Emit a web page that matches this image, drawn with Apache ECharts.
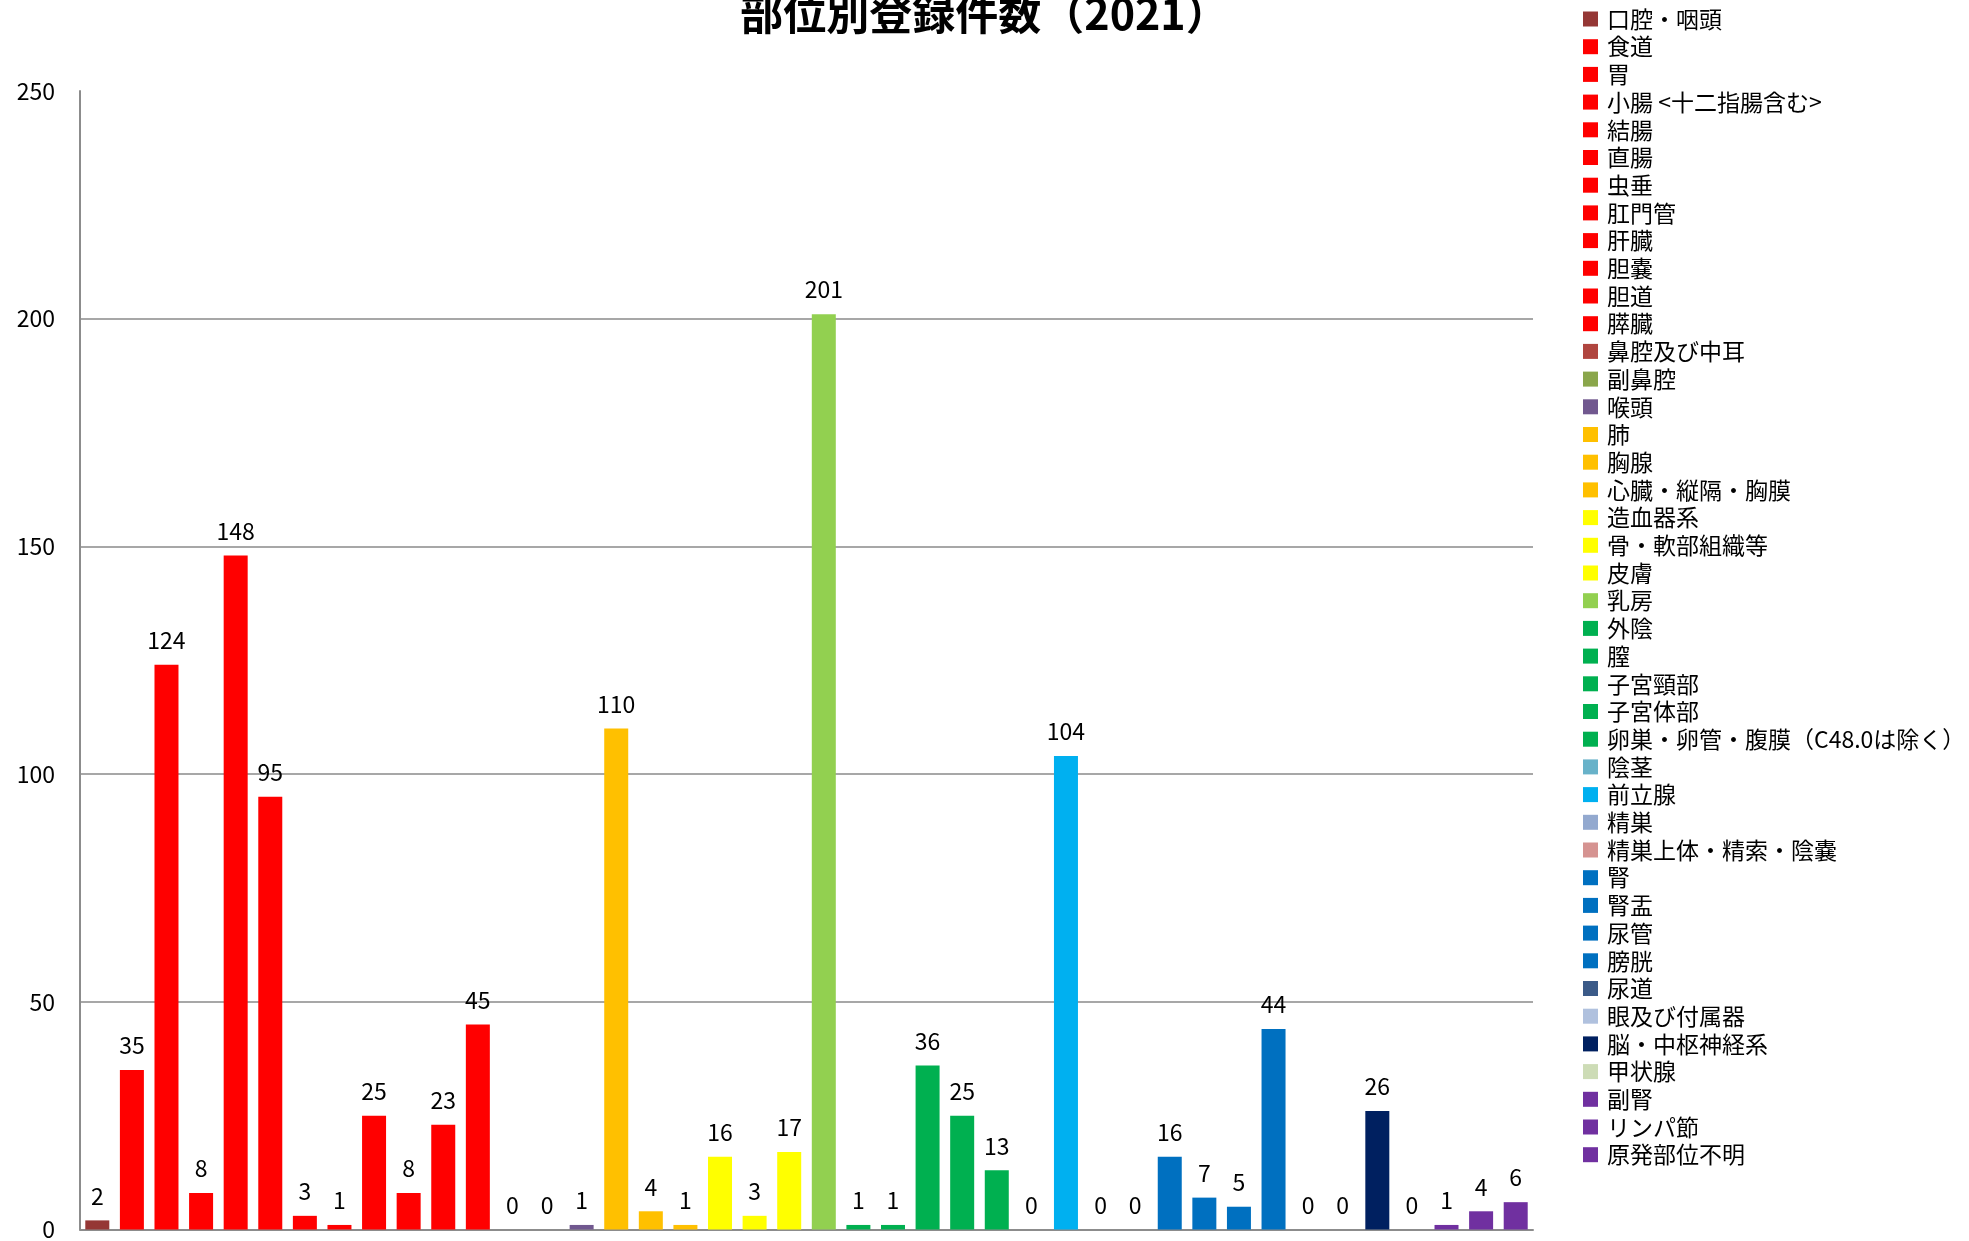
<!DOCTYPE html>
<html>
<head>
<meta charset="utf-8">
<title>部位別登録件数（2021）</title>
<script src="https://cdn.jsdelivr.net/npm/echarts@6/dist/echarts.min.js"></script>
<style>
    html, body { margin: 0; padding: 0; background: #fff; }
    #chart { width: 1969px; height: 1241px; }
</style>
</head>
<body>
<div id="chart"></div>
<script>
// 部位名
var sites = [
    '口腔・咽頭', '食道', '胃', '小腸 <十二指腸含む>', '結腸', '直腸', '虫垂', '肛門管',
    '肝臓', '胆嚢', '胆道', '膵臓', '鼻腔及び中耳', '副鼻腔', '喉頭', '肺', '胸腺',
    '心臓・縦隔・胸膜', '造血器系', '骨・軟部組織等', '皮膚', '乳房', '外陰', '膣',
    '子宮頸部', '子宮体部', '卵巣・卵管・腹膜（C48.0は除く）', '陰茎', '前立腺', '精巣',
    '精巣上体・精索・陰嚢', '腎', '腎盂', '尿管', '膀胱', '尿道', '眼及び付属器',
    '脳・中枢神経系', '甲状腺', '副腎', 'リンパ節', '原発部位不明'
];
// 登録件数
var counts = [
    2, 35, 124, 8, 148, 95, 3, 1,
    25, 8, 23, 45, 0, 0, 1, 110, 4,
    1, 16, 3, 17, 201, 1, 1,
    36, 25, 13, 0, 104, 0,
    0, 16, 7, 5, 44, 0, 0,
    26, 0, 1, 4, 6
];
// 色
var siteColors = [
    '#953735', '#FF0000', '#FF0000', '#FF0000', '#FF0000', '#FF0000', '#FF0000', '#FF0000',
    '#FF0000', '#FF0000', '#FF0000', '#FF0000', '#B0453F', '#8AA64B', '#71588F', '#FFC000', '#FFC000',
    '#FFC000', '#FFFF00', '#FFFF00', '#FFFF00', '#92D050', '#00B050', '#00B050',
    '#00B050', '#00B050', '#00B050', '#68B2C9', '#00B0F0', '#93A9CF',
    '#D59391', '#0070C0', '#0070C0', '#0070C0', '#0070C0', '#3B5A88', '#B0C1DE',
    '#002060', '#CDDCB6', '#7030A0', '#7030A0', '#7030A0'
];
var yMin = 0, yMax = 250, yStep = 50;

var myChart = echarts.init(document.getElementById('chart'));
var font = '"Noto Sans CJK JP", "Noto Sans", sans-serif';

// 系列ごとに1本ずつ棒を置く（凡例を部位ごとに出すため）
var series = sites.map(function (name, i) {
    return {
        name: name,
        type: 'bar',
        stack: 'all',
        barWidth: 24,
        data: sites.map(function (_, j) { return j === i ? counts[i] : '-'; }),
        itemStyle: { color: siteColors[i] },
        label: {
            show: true,
            position: 'top',
            distance: 13,
            color: '#000',
            fontFamily: font,
            fontSize: 23
        }
    };
});

var option = {
    animation: false,
    backgroundColor: '#fff',
    textStyle: { fontFamily: font },
    title: {
        text: '部位別登録件数（2021）',
        left: 'center',
        top: -13,
        textStyle: { color: '#000', fontSize: 43, fontWeight: 'bold', fontFamily: font }
    },
    legend: {
        orient: 'vertical',
        left: 1578,
        top: 2,
        icon: 'rect',
        itemWidth: 15,
        itemHeight: 15,
        itemGap: 3.7,
        selectedMode: false,
        textStyle: { color: '#000', fontSize: 23, lineHeight: 24, fontFamily: font, padding: [0, 0, 0, 4] },
        data: sites
    },
    grid: { left: 80, right: 436, top: 91, bottom: 10, containLabel: false },
    xAxis: {
        type: 'category',
        data: sites,
        axisLine: { lineStyle: { color: '#8c8c8c', width: 2 } },
        axisTick: { show: false },
        axisLabel: { show: false }
    },
    yAxis: {
        type: 'value',
        min: yMin,
        max: yMax,
        interval: yStep,
        axisLine: { show: true, lineStyle: { color: '#8c8c8c', width: 2 } },
        axisTick: { show: false },
        axisLabel: { color: '#000', fontSize: 23, margin: 25, fontFamily: font },
        splitLine: { show: true, showMinLine: false, showMaxLine: false, lineStyle: { color: '#8a8a8a', width: 1.5 } }
    },
    series: series
};
myChart.setOption(option);
window.addEventListener('resize', function () {
    myChart.resize();
});
</script>
</body>
</html>
